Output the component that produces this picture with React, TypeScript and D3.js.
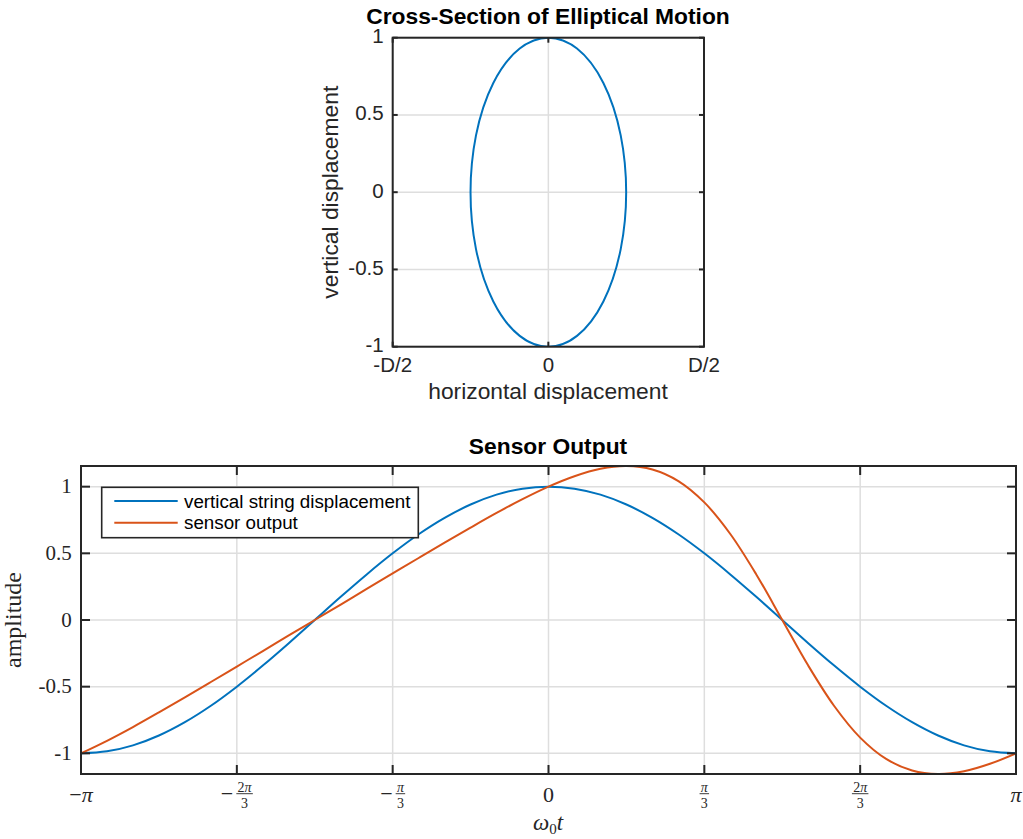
import React from "react";
import * as d3 from "d3";

// ---------- data ----------
const tDeg = [
  -180, -170, -160, -150, -140, -130, -120, -110, -100, -90, -80, -70, -60, -50, -40, -30, -20, -10,
  0, 10, 20, 30, 40, 50, 60, 70, 80, 90, 100, 110, 120, 130, 140, 150, 160, 170, 180,
];
const verticalDisplacement = [
  -1, -0.985, -0.94, -0.866, -0.766, -0.643, -0.5, -0.342, -0.174, 0, 0.174, 0.342, 0.5, 0.643, 0.766, 0.866, 0.94, 0.985,
  1, 0.985, 0.94, 0.866, 0.766, 0.643, 0.5, 0.342, 0.174, 0, -0.174, -0.342, -0.5, -0.643, -0.766, -0.866, -0.94, -0.985, -1,
];
const sensorOutput = [
  -1, -0.906, -0.803, -0.693, -0.58, -0.465, -0.349, -0.233, -0.116, 0, 0.116, 0.233, 0.349, 0.465, 0.58, 0.693, 0.803, 0.906,
  1, 1.078, 1.134, 1.155, 1.129, 1.042, 0.882, 0.645, 0.342, 0, -0.342, -0.645, -0.882, -1.042, -1.129, -1.155, -1.134, -1.078, -1,
];
const ellipseCenter = [0, 0];
const ellipseRadii = [0.5, 1];

const topXTicks = [-1, 0, 1];
const topXTickLabels = ["-D/2", "0", "D/2"];
const topYTicks = [-1, -0.5, 0, 0.5, 1];
const topYTickLabels = ["-1", "-0.5", "0", "0.5", "1"];

const botXTicks = [-180, -120, -60, 0, 60, 120, 180];
const botXTickSigns = ["−", "−", "−", "", "", "", ""];
const botXTickNums = ["π", "2π", "π", "0", "π", "2π", "π"];
const botXTickDens = ["", "3", "3", "", "3", "3", ""];
const botYTicks = [-1, -0.5, 0, 0.5, 1];
const botYTickLabels = ["-1", "-0.5", "0", "0.5", "1"];

const seriesNames = ["vertical string displacement", "sensor output"];
const seriesColors = ["#0072BD", "#D95319"];

// ---------- styles ----------
const AX = "#262626";
const GRID = "#dedede";
const SANS = "'Liberation Sans', Arial, Helvetica, sans-serif";
const SERIF = "'Liberation Serif', 'Times New Roman', serif";

function FracLabel({ x, y, sign, num, den }: any) {
  if (!den) {
    return (
      <text x={x} y={y} textAnchor="middle" fontFamily={SERIF} fontSize={22} fill={AX}>
        {sign ? <tspan>{sign}</tspan> : null}
        <tspan fontStyle={num === "0" ? "normal" : "italic"}>{num}</tspan>
      </text>
    );
  }
  const numW = num.length > 1 ? 14.5 : 7.5;
  const barW = numW + 2;
  const minusW = sign ? 12.5 : 0;
  const gap = sign ? 3 : 0;
  const total = minusW + gap + barW;
  const left = x - total / 2;
  const fx = left + minusW + gap;
  return (
    <g fill={AX} fontFamily={SERIF}>
      {sign ? (
        <text x={left} y={y - 1} fontSize={22}>
          {sign}
        </text>
      ) : null}
      <line x1={fx} x2={fx + barW} y1={y - 8.3} y2={y - 8.3} stroke={AX} strokeWidth={0.9} />
      <text x={fx + barW / 2} y={y - 10.5} textAnchor="middle" fontSize={14}>
        {num.length > 1 ? (
          <>
            <tspan>{num[0]}</tspan>
            <tspan fontStyle="italic">{num.slice(1)}</tspan>
          </>
        ) : (
          <tspan fontStyle="italic">{num}</tspan>
        )}
      </text>
      <text x={fx + barW / 2} y={y + 5.9} textAnchor="middle" fontSize={14}>
        {den}
      </text>
    </g>
  );
}

export default function App() {
  // top chart
  const tx = d3.scaleLinear().domain([-1, 1]).range([392.7, 704]);
  const ty = d3.scaleLinear().domain([-1, 1]).range([346.7, 37.7]);
  // bottom chart
  const bx = d3.scaleLinear().domain([-180, 180]).range([81, 1016]);
  const by = d3.scaleLinear().domain([-1.155, 1.155]).range([774, 466]);

  const line = d3
    .line<number>()
    .x((_, i) => bx(tDeg[i]))
    .y((d) => by(d))
    .curve(d3.curveCatmullRom.alpha(0.5));

  const series = [verticalDisplacement, sensorOutput];

  const tL = tx(-1), tR = tx(1), tT = ty(1), tB = ty(-1);
  const bL = bx(-180), bR = bx(180), bT = by(1.155), bB = by(-1.155);
  const tk1 = 5;
  const tk2 = 9;

  return (
    <svg
      width={1023}
      height={839}
      style={{ position: "absolute", left: 0, top: 0, background: "#fff" }}
    >
      <defs>
        <clipPath id="clipTop">
          <rect x={tL} y={tT} width={tR - tL} height={tB - tT} />
        </clipPath>
        <clipPath id="clipBot">
          <rect x={bL} y={bT} width={bR - bL} height={bB - bT} />
        </clipPath>
      </defs>
      <rect x={0} y={0} width={1023} height={839} fill="#fff" />

      {/* ================= TOP CHART ================= */}
      <g>
        {topXTicks.map((v) => (
          <line key={"tgx" + v} x1={tx(v)} x2={tx(v)} y1={tT} y2={tB} stroke={GRID} strokeWidth={1.5} />
        ))}
        {topYTicks.map((v) => (
          <line key={"tgy" + v} x1={tL} x2={tR} y1={ty(v)} y2={ty(v)} stroke={GRID} strokeWidth={1.5} />
        ))}
        <ellipse
          clipPath="url(#clipTop)"
          cx={tx(ellipseCenter[0])}
          cy={ty(ellipseCenter[1])}
          rx={tx(ellipseRadii[0]) - tx(0)}
          ry={ty(0) - ty(ellipseRadii[1])}
          fill="none"
          stroke={seriesColors[0]}
          strokeWidth={2}
        />
        <rect x={tL} y={tT} width={tR - tL} height={tB - tT} fill="none" stroke={AX} strokeWidth={2} />
        {topXTicks.map((v) => (
          <g key={"ttx" + v}>
            <line x1={tx(v)} x2={tx(v)} y1={tB} y2={tB - tk1} stroke={AX} strokeWidth={2} />
            <line x1={tx(v)} x2={tx(v)} y1={tT} y2={tT + tk1} stroke={AX} strokeWidth={2} />
          </g>
        ))}
        {topYTicks.map((v) => (
          <g key={"tty" + v}>
            <line x1={tL} x2={tL + tk1} y1={ty(v)} y2={ty(v)} stroke={AX} strokeWidth={2} />
            <line x1={tR} x2={tR - tk1} y1={ty(v)} y2={ty(v)} stroke={AX} strokeWidth={2} />
          </g>
        ))}
        {topXTicks.map((v, i) => (
          <text key={"tlx" + v} x={tx(v)} y={372} textAnchor="middle" fontFamily={SANS} fontSize={20.5} fill={AX}>
            {topXTickLabels[i]}
          </text>
        ))}
        {topYTicks.map((v, i) => (
          <text
            key={"tly" + v}
            x={tL - 9}
            y={ty(v) + 5.5}
            textAnchor="end"
            fontFamily={SANS}
            fontSize={20.5}
            fill={AX}
          >
            {topYTickLabels[i]}
          </text>
        ))}
        <text x={548} y={399.3} textAnchor="middle" fontFamily={SANS} fontSize={22.8} fill={AX}>
          horizontal displacement
        </text>
        <text
          transform={`translate(338,${(tT + tB) / 2}) rotate(-90)`}
          textAnchor="middle"
          fontFamily={SANS}
          fontSize={22.8}
          fill={AX}
        >
          vertical displacement
        </text>
        <text x={548} y={24} textAnchor="middle" fontFamily={SANS} fontSize={22.8} fontWeight="bold" fill="#000">
          Cross-Section of Elliptical Motion
        </text>
      </g>

      {/* ================= BOTTOM CHART ================= */}
      <g>
        {botXTicks.map((v) => (
          <line key={"bgx" + v} x1={bx(v)} x2={bx(v)} y1={bT} y2={bB} stroke={GRID} strokeWidth={1.5} />
        ))}
        {botYTicks.map((v) => (
          <line key={"bgy" + v} x1={bL} x2={bR} y1={by(v)} y2={by(v)} stroke={GRID} strokeWidth={1.5} />
        ))}
        <g clipPath="url(#clipBot)">
          {series.map((s, i) => (
            <path key={"s" + i} d={line(s) || ""} fill="none" stroke={seriesColors[i]} strokeWidth={2} />
          ))}
        </g>
        <rect x={bL} y={bT} width={bR - bL} height={bB - bT} fill="none" stroke={AX} strokeWidth={2} />
        {botXTicks.map((v) => (
          <g key={"btx" + v}>
            <line x1={bx(v)} x2={bx(v)} y1={bB} y2={bB - tk2} stroke={AX} strokeWidth={2} />
            <line x1={bx(v)} x2={bx(v)} y1={bT} y2={bT + tk2} stroke={AX} strokeWidth={2} />
          </g>
        ))}
        {botYTicks.map((v) => (
          <g key={"bty" + v}>
            <line x1={bL} x2={bL + tk2} y1={by(v)} y2={by(v)} stroke={AX} strokeWidth={2} />
            <line x1={bR} x2={bR - tk2} y1={by(v)} y2={by(v)} stroke={AX} strokeWidth={2} />
          </g>
        ))}
        {botXTicks.map((v, i) => (
          <FracLabel
            key={"blx" + v}
            x={bx(v)}
            y={802}
            sign={botXTickSigns[i]}
            num={botXTickNums[i]}
            den={botXTickDens[i]}
          />
        ))}
        {botYTicks.map((v, i) => (
          <text
            key={"bly" + v}
            x={bL - 9.3}
            y={by(v) + 6.8}
            textAnchor="end"
            fontFamily={SERIF}
            fontSize={21}
            fill={AX}
          >
            {botYTickLabels[i]}
          </text>
        ))}
        <text x={548} y={830} textAnchor="middle" fontFamily={SERIF} fontSize={23} fill={AX}>
          <tspan fontStyle="italic">ω</tspan>
          <tspan fontSize={15} dy={4}>0</tspan>
          <tspan fontStyle="italic" dy={-4}>t</tspan>
        </text>
        <text
          transform={`translate(21,${(bT + bB) / 2}) rotate(-90)`}
          textAnchor="middle"
          fontFamily={SERIF}
          fontSize={24}
          fill={AX}
        >
          amplitude
        </text>
        <text x={548} y={454.3} textAnchor="middle" fontFamily={SANS} fontSize={22.8} fontWeight="bold" fill="#000">
          Sensor Output
        </text>

        {/* legend */}
        <g>
          <rect x={101.7} y={487.3} width={316.6} height={50.4} fill="#fff" stroke={AX} strokeWidth={1.6} />
          {seriesNames.map((n, i) => (
            <g key={"lg" + i}>
              <line
                x1={114.3}
                x2={177.7}
                y1={501 + i * 21.7}
                y2={501 + i * 21.7}
                stroke={seriesColors[i]}
                strokeWidth={2}
              />
              <text x={184} y={501 + i * 21.7 + 6.5} fontFamily={SANS} fontSize={18.8} fill="#000">
                {n}
              </text>
            </g>
          ))}
        </g>
      </g>
    </svg>
  );
}
